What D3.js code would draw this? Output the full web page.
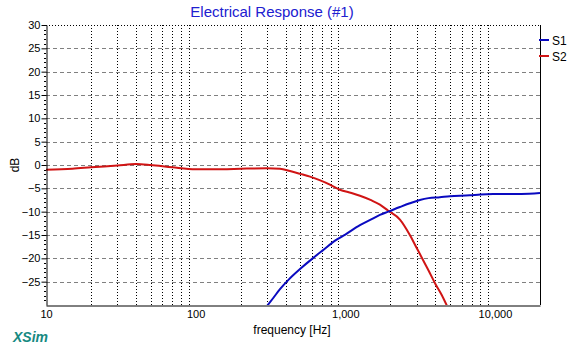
<!DOCTYPE html>
<html><head><meta charset="utf-8">
<script src="https://cdn.jsdelivr.net/npm/d3@7"></script>
<style>body{margin:0;background:#fff}svg{display:block;font-family:"Liberation Sans",Arial,sans-serif}</style>
</head><body><svg id="c" width="578" height="350"></svg>
<script>
const title = "Electrical Response (#1)";
const xTickValues = [10, 100, 1000, 10000];
const xTickLabels = ["10", "100", "1,000", "10,000"];
const yTickValues = [-25, -20, -15, -10, -5, 0, 5, 10, 15, 20, 25, 30];
const seriesNames = ["S1", "S2"];
const seriesColors = ["#0a0ac0", "#d01414"];
const s1Freq = [300,330,366,420,498,611,700,875,1000,1253,1500,1703,1936,2318,2700,3150,3600,4285,5000,6792,8000,9730,15000,20000];
const s1dB   = [-30.2,-28.5,-26.6,-24.5,-22.3,-19.9,-18.4,-16.0,-14.9,-12.9,-11.6,-10.7,-10.0,-9.0,-8.2,-7.5,-7.1,-6.9,-6.7,-6.5,-6.3,-6.2,-6.2,-6.0];
const s2Freq = [10,15,20,30,40,50,70,100,150,200,300,366,427,500,581,680,789,920,1100,1253,1500,1703,1936,2318,2700,3000,3300,3600,4000,4400,4800];
const s2dB   = [-1.0,-0.8,-0.5,-0.1,0.2,0.0,-0.5,-0.9,-0.9,-0.8,-0.7,-0.8,-1.3,-1.9,-2.5,-3.3,-4.2,-5.3,-6.0,-6.6,-7.6,-8.5,-9.8,-11.7,-15.0,-17.8,-20.3,-22.6,-25.5,-27.8,-30.3];

const svg = d3.select("#c");
const L = 46, R = 540, T = 25, B = 305;
const x = d3.scaleLog().domain([10, 20000]).range([L, R]);
const y = d3.scaleLinear().domain([-30, 30]).range([B, T]);

// vertical grid
const minor = [];
for (let d = 10; d < 20000; d *= 10) for (let k = 2; k <= 9; k++) if (d*k < 20000) minor.push(d*k);
svg.append("g").selectAll("line").data(minor).join("line")
  .attr("x1", d => Math.round(x(d)) + 0.5).attr("x2", d => Math.round(x(d)) + 0.5)
  .attr("y1", T).attr("y2", B)
  .attr("stroke", d => [100,1000,10000].includes(d) ? "#a0a0a0" : "#000")
  .attr("stroke-width", 1).attr("stroke-dasharray", "1,2");
// horizontal grid
svg.append("g").selectAll("line").data(yTickValues.filter(v => v < 30)).join("line")
  .attr("x1", L).attr("x2", R)
  .attr("y1", d => Math.round(y(d)) + 0.5).attr("y2", d => Math.round(y(d)) + 0.5)
  .attr("stroke", "#808080").attr("stroke-dasharray", "4,3");
// top dotted border
svg.append("line").attr("x1", L).attr("x2", R).attr("y1", T + 0.5).attr("y2", T + 0.5)
  .attr("stroke", "#000").attr("stroke-dasharray", "1,2");
svg.append("line").attr("x1", R + 0.5).attr("x2", R + 0.5).attr("y1", T).attr("y2", B)
  .attr("stroke", "#000");

// clip
svg.append("clipPath").attr("id", "clip").append("rect")
  .attr("x", L).attr("y", T).attr("width", R - L).attr("height", B - T);
const line = d3.line().x(d => x(d[0])).y(d => y(d[1])).curve(d3.curveMonotoneX);
const g = svg.append("g").attr("clip-path", "url(#clip)");
g.append("path").datum(d3.zip(s2Freq, s2dB)).attr("d", line)
  .attr("fill", "none").attr("stroke", seriesColors[1]).attr("stroke-width", 2);
g.append("path").datum(d3.zip(s1Freq, s1dB)).attr("d", line)
  .attr("fill", "none").attr("stroke", seriesColors[0]).attr("stroke-width", 2);

// y axis
const yAxis = svg.append("g").attr("transform", `translate(${L + 0.5},0)`)
  .call(d3.axisLeft(y).tickValues(yTickValues).tickSize(5).tickSizeOuter(0).tickPadding(1));
yAxis.select(".domain").attr("stroke", "#000");
yAxis.selectAll("text").attr("font-size", 11).attr("fill", "#000").attr("font-family", "Liberation Sans, Arial");
const yMinor = d3.range(-29, 30).filter(v => v % 5 !== 0);
svg.append("g").selectAll("line").data(yMinor).join("line")
  .attr("x1", L - 2).attr("x2", L)
  .attr("y1", d => Math.round(y(d)) + 0.5).attr("y2", d => Math.round(y(d)) + 0.5)
  .attr("stroke", "#000");

// x axis
const xAxis = svg.append("g").attr("transform", `translate(0,${B + 0.5})`)
  .call(d3.axisBottom(x).tickValues(xTickValues).tickFormat((d, i) => xTickLabels[i]).tickSize(0).tickSizeOuter(0).tickPadding(5));
xAxis.select(".domain").attr("stroke", "#000");
xAxis.selectAll("text").attr("font-size", 11).attr("fill", "#000").attr("font-family", "Liberation Sans, Arial");

// title and labels
svg.append("text").attr("x", 272).attr("y", 17).attr("text-anchor", "middle")
  .attr("font-size", 15).attr("fill", "#2020d0").text(title);
svg.append("text").attr("transform", "translate(19,165) rotate(-90)").attr("text-anchor", "middle")
  .attr("font-size", 12).attr("fill", "#000").text("dB");
svg.append("text").attr("x", 292).attr("y", 334).attr("text-anchor", "middle")
  .attr("font-size", 12).attr("fill", "#000").text("frequency [Hz]");
svg.append("text").attr("x", 13).attr("y", 342).attr("font-size", 14).attr("font-weight", "bold")
  .attr("font-style", "italic").attr("fill", "#178a82").text("XSim");

// legend
seriesNames.forEach((n, i) => {
  const ly = 40 + i * 16;
  svg.append("line").attr("x1", 539).attr("x2", 549).attr("y1", ly).attr("y2", ly)
    .attr("stroke", seriesColors[i]).attr("stroke-width", 2);
  svg.append("text").attr("x", 552).attr("y", ly + 4.5).attr("font-size", 12).attr("fill", "#000").text(n);
});
</script></body></html>
